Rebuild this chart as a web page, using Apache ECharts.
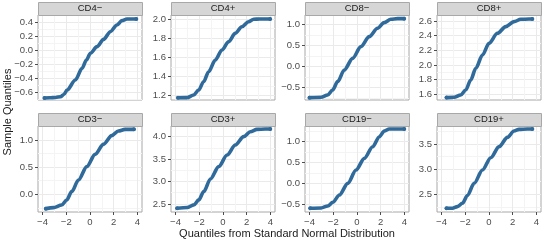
<!DOCTYPE html>
<html>
<head>
<meta charset="utf-8">
<script src="https://cdn.jsdelivr.net/npm/echarts@6/dist/echarts.min.js"></script>
<style>
html,body{margin:0;padding:0;background:#fff;}
#chart{width:544px;height:242px;}
</style>
</head>
<body>
<div id="chart"></div>
<script>
// ---- data ----
const panelNames = ['CD4\u2212', 'CD4+', 'CD8\u2212', 'CD8+', 'CD3\u2212', 'CD3+', 'CD19\u2212', 'CD19+'];

const cd4negX = [-3.83, -3.4, -2.9, -2.49, -2.2, -1.93, -1.23, -0.67, -0.30, 0.03, 0.59, 1.15, 1.71, 2.27, 2.69, 3.11, 3.5, 3.9];
const cd4negY = [-0.676, -0.673, -0.668, -0.657, -0.625, -0.562, -0.42, -0.254, -0.136, -0.04, 0.054, 0.158, 0.267, 0.362, 0.424, 0.447, 0.448, 0.448];

const cd4posX = [-3.79, -3.03, -2.47, -2.05, -1.63, -1.21, -0.65, -0.09, 0.47, 1.03, 1.59, 2.15, 2.58, 3.1, 3.97];
const cd4posY = [1.179, 1.18, 1.207, 1.259, 1.346, 1.45, 1.572, 1.676, 1.763, 1.85, 1.92, 1.972, 1.997, 2.0, 2.0];

const cd8negX = [-4.0, -3.03, -2.47, -2.05, -1.63, -1.07, -0.37, 0.33, 1.03, 1.73, 2.29, 2.85, 3.41, 3.97];
const cd8negY = [-0.746, -0.738, -0.683, -0.563, -0.365, -0.087, 0.19, 0.468, 0.706, 0.905, 1.04, 1.12, 1.135, 1.135];

const cd8posX = [-3.58, -2.94, -2.38, -1.96, -1.54, -1.11, -0.55, 0.0, 0.71, 1.41, 2.11, 2.67, 3.37, 3.65];
const cd8posY = [1.555, 1.559, 1.59, 1.659, 1.795, 1.955, 2.136, 2.295, 2.432, 2.523, 2.591, 2.623, 2.627, 2.627];

const cd3negX = [-3.72, -3.08, -2.38, -1.96, -1.54, -0.97, -0.27, 0.43, 1.13, 1.83, 2.39, 2.95, 3.70];
const cd3negY = [-0.264, -0.245, -0.196, -0.104, 0.049, 0.264, 0.509, 0.736, 0.92, 1.08, 1.166, 1.196, 1.196];

const cd3posX = [-3.86, -3.02, -2.46, -2.04, -1.62, -1.06, -0.36, 0.34, 1.04, 1.74, 2.30, 2.86, 3.56, 3.98];
const cd3posY = [2.404, 2.419, 2.478, 2.59, 2.775, 3.057, 3.332, 3.59, 3.814, 4.0, 4.11, 4.163, 4.17, 4.17];

const cd19negX = [-3.94, -3.02, -2.46, -2.04, -1.48, -0.78, -0.08, 0.62, 1.32, 1.88, 2.30, 2.72, 3.42, 3.98];
const cd19negY = [-0.596, -0.588, -0.54, -0.453, -0.277, 0.002, 0.322, 0.601, 0.88, 1.12, 1.255, 1.303, 1.303, 1.303];

const cd19posX = [-3.58, -3.08, -2.66, -2.24, -1.82, -1.25, -0.55, 0.15, 0.85, 1.55, 2.11, 2.53, 3.23, 3.65];
const cd19posY = [2.222, 2.222, 2.255, 2.321, 2.474, 2.719, 2.983, 3.228, 3.447, 3.632, 3.758, 3.791, 3.798, 3.798];

// tick labels
const xTicks = [-4, -2, 0, 2, 4];
const yTicksCD4neg = [-0.6, -0.4, -0.2, 0.0, 0.2, 0.4];
const yTicksCD4pos = [1.2, 1.4, 1.6, 1.8, 2.0];
const yTicksCD8neg = [-0.5, 0.0, 0.5, 1.0];
const yTicksCD8pos = [1.6, 1.8, 2.0, 2.2, 2.4, 2.6];
const yTicksCD3neg = [0.0, 0.5, 1.0];
const yTicksCD3pos = [2.5, 3.0, 3.5, 4.0];
const yTicksCD19neg = [-0.5, 0.0, 0.5, 1.0];
const yTicksCD19pos = [2.5, 3.0, 3.5];

// axis ranges
const xRange = [-4.38, 4.38];
const yRanges = [[-0.704, 0.504], [1.155, 2.042], [-0.802, 1.222], [1.522, 2.682],
                 [-0.326, 1.258], [2.32, 4.238], [-0.685, 1.376], [2.148, 3.858]];

const xTitle = 'Quantiles from Standard Normal Distribution';
const yTitle = 'Sample Quantiles';

// ---- assembly ----
const xs = [cd4negX, cd4posX, cd8negX, cd8posX, cd3negX, cd3posX, cd19negX, cd19posX];
const ys = [cd4negY, cd4posY, cd8negY, cd8posY, cd3negY, cd3posY, cd19negY, cd19posY];
const yTicks = [yTicksCD4neg, yTicksCD4pos, yTicksCD8neg, yTicksCD8pos, yTicksCD3neg, yTicksCD3pos, yTicksCD19neg, yTicksCD19pos];

const panelLeft = [38, 171, 305, 437];
const rowTop = [15, 126];
const rowH = [85, 86];
const panelW = 104;
const stripH = 13;

const pointColor = '#2F6A9A';
const font = 'Liberation Sans, Arial, Helvetica, sans-serif';

function minorOf(ticks, range) {
  const step = ticks.length > 1 ? ticks[1] - ticks[0] : 1;
  const out = [];
  for (let v = ticks[0] - step / 2; v <= range[1] + 1e-9; v += step) {
    if (v >= range[0] - 1e-9) out.push(+v.toFixed(6));
  }
  return out;
}
function fmtNum(v, d) {
  const s = Math.abs(v).toFixed(d);
  return (v < -1e-9 ? '\u2212' : '') + s;
}

const grids = [], xAxes = [], yAxes = [], series = [], graphics = [];
const nP = panelNames.length;

for (let i = 0; i < nP; i++) {
  const r = Math.floor(i / 4), c = i % 4;
  const left = panelLeft[c], top = rowTop[r], h = rowH[r];
  const bottomRow = r === 1;
  const nPts = xs[i].length;
  grids.push({
    left: left, top: top, width: panelW, height: h,
    show: true, borderColor: '#A8A8A8', borderWidth: 1, backgroundColor: '#ffffff',
    containLabel: false
  });
  xAxes.push({
    gridIndex: i, type: 'value', min: xRange[0], max: xRange[1], position: 'bottom',
    axisLine: { show: false, onZero: false },
    axisTick: { show: bottomRow, customValues: xTicks, length: 3, lineStyle: { color: '#4D4D4D', width: 1 } },
    axisLabel: { show: bottomRow, customValues: xTicks, formatter: v => fmtNum(v, 0),
                 fontSize: 9.5, fontFamily: font, color: '#4D4D4D', margin: 5 },
    splitLine: { show: true, lineStyle: { color: '#EAEAEA', width: 1 } }
  });
  yAxes.push({
    gridIndex: i, type: 'value', min: yRanges[i][0], max: yRanges[i][1], position: 'left',
    axisLine: { show: false, onZero: false },
    axisTick: { show: true, customValues: yTicks[i], length: 3, lineStyle: { color: '#4D4D4D', width: 1 } },
    axisLabel: { show: true, customValues: yTicks[i], formatter: v => fmtNum(v, 1),
                 fontSize: 9.5, fontFamily: font, color: '#4D4D4D', margin: 5 },
    splitLine: { show: true, lineStyle: { color: '#EAEAEA', width: 1 } }
  });
  series.push({
    type: 'line', xAxisIndex: i, yAxisIndex: i,
    data: xs[i].map((x, k) => [x, ys[i][k]]),
    smooth: 0.3, smoothMonotone: 'x',
    symbol: 'circle', showSymbol: true,
    symbolSize: (val, p) => (p.dataIndex === 0 || p.dataIndex === nPts - 1) ? 4 : 0,
    lineStyle: { color: pointColor, width: 3.6, cap: 'round', join: 'round' },
    itemStyle: { color: pointColor },
    clip: false, silent: true, animation: false, z: 3
  });
  graphics.push({
    type: 'rect', left: left, top: top - stripH, z: 10,
    shape: { width: panelW, height: stripH },
    style: { fill: '#D6D6D6', stroke: '#A8A8A8', lineWidth: 1 }
  });
  graphics.push({
    type: 'text', z: 11,
    x: left + panelW / 2, y: top - stripH / 2,
    style: { text: panelNames[i], fill: '#1A1A1A', font: '9.5px ' + font, textAlign: 'center', textVerticalAlign: 'middle' }
  });
}
// minor grid axes
for (let i = 0; i < nP; i++) {
  xAxes.push({
    gridIndex: i, type: 'value', min: xRange[0], max: xRange[1], position: 'bottom',
    axisLine: { show: false, onZero: false },
    axisTick: { show: false, customValues: minorOf(xTicks, xRange) },
    axisLabel: { show: false },
    splitLine: { show: true, lineStyle: { color: '#F4F4F4', width: 1 } }
  });
  yAxes.push({
    gridIndex: i, type: 'value', min: yRanges[i][0], max: yRanges[i][1], position: 'left',
    axisLine: { show: false, onZero: false },
    axisTick: { show: false, customValues: minorOf(yTicks[i], yRanges[i]) },
    axisLabel: { show: false },
    splitLine: { show: true, lineStyle: { color: '#F4F4F4', width: 1 } }
  });
}

graphics.push({
  type: 'text', x: 287, y: 234,
  style: { text: xTitle, fill: '#1A1A1A', font: '11px ' + font, textAlign: 'center', textVerticalAlign: 'middle' }
});
graphics.push({
  type: 'text', x: 8, y: 112, rotation: Math.PI / 2,
  style: { text: yTitle, fill: '#1A1A1A', font: '11px ' + font, textAlign: 'center', textVerticalAlign: 'middle' }
});

const chart = echarts.init(document.getElementById('chart'), null, { renderer: 'canvas' });
chart.setOption({
  animation: false,
  backgroundColor: '#ffffff',
  grid: grids, xAxis: xAxes, yAxis: yAxes, series: series, graphic: graphics
});
</script>
</body>
</html>
